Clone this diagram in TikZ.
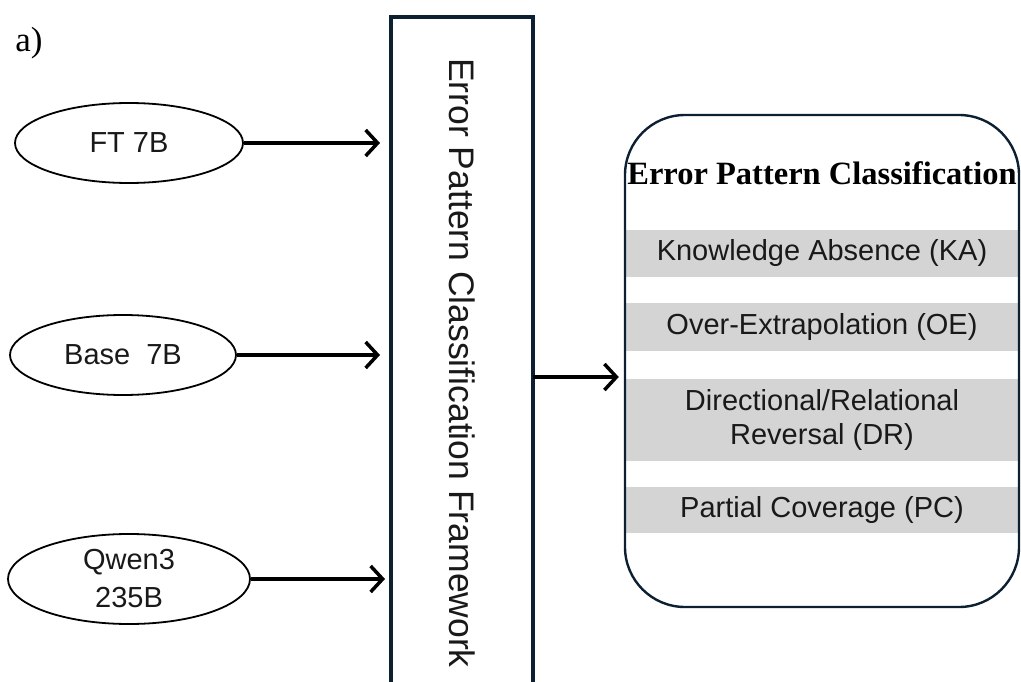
\documentclass[tikz,border=0pt]{standalone}
\usepackage{fontspec}
\newfontfamily\sansf{Liberation Sans}
\newfontfamily\seriff{Liberation Serif}
\usetikzlibrary{arrows.meta,shapes.geometric}
\definecolor{navy}{RGB}{12,32,50}
\definecolor{bandgray}{RGB}{212,212,212}
\definecolor{txt}{RGB}{25,25,25}
\tikzset{
  model/.style={ellipse,draw=black,line width=1.8pt,inner sep=0pt,align=center,
    font=\sansf\fontsize{29}{38}\selectfont,text=txt},
  band/.style={rectangle,fill=bandgray,inner sep=0pt,minimum width=392pt,align=center,
    font=\sansf\fontsize{29}{34}\selectfont,text=txt},
  conn/.style={line width=3.5pt,-{Straight Barb[length=12pt,width=26pt,line width=3.5pt]}},
}
\begin{document}
\begin{tikzpicture}[x=1pt,y=-1pt]
\useasboundingbox (0,0) rectangle (1021,682);
% label
\node[font=\seriff\fontsize{35}{40}\selectfont] (lab) at (29,43) {a)};
% models
\node[model,minimum width=228pt,minimum height=80pt] (ft) at (129,143) {FT 7B};
\node[model,minimum width=226pt,minimum height=80pt] (base) at (123,355) {Base~~7B};
\node[model,minimum width=242pt,minimum height=90pt] (qw) at (129,579) {Qwen3\\235B};
% framework box
\node[rectangle,draw=navy,line width=4pt,minimum width=142pt,minimum height=690pt,inner sep=0pt] (fw) at (462,362) {};
\node[rotate=-90,font=\sansf\fontsize{35.5}{40}\selectfont,text=txt] (fwt) at (462,363) {Error Pattern Classification Framework};
% bands
\node[band,minimum height=47pt] (ka) at (822,253.5) {Knowledge Absence (KA)};
\node[band,minimum height=48pt] (oe) at (822,327) {Over-Extrapolation (OE)};
\node[band,minimum height=82pt] (dr) at (822,420) {Directional/Relational\\Reversal (DR)};
\node[band,minimum height=46pt] (pc) at (822,510) {Partial Coverage (PC)};
% classification box
\node[rectangle,rounded corners=60pt,draw=navy,line width=2.4pt,minimum width=394pt,minimum height=492pt,inner sep=0pt] (cls) at (822,361) {};
\node[font=\seriff\bfseries\fontsize{32.5}{38}\selectfont,text=black] (title) at (822,173) {Error Pattern Classification};
% connectors
\draw[conn,shorten >=9pt] (ft.east) -- (ft.east -| fw.west);
\draw[conn,shorten >=9pt] (base.east) -- (base.east -| fw.west);
\draw[conn,shorten >=4pt] (qw.east) -- (qw.east -| fw.west);
\coordinate (o) at (533,377);
\draw[conn,shorten >=5pt] (o) -- (o -| cls.west);
\end{tikzpicture}
\end{document}
